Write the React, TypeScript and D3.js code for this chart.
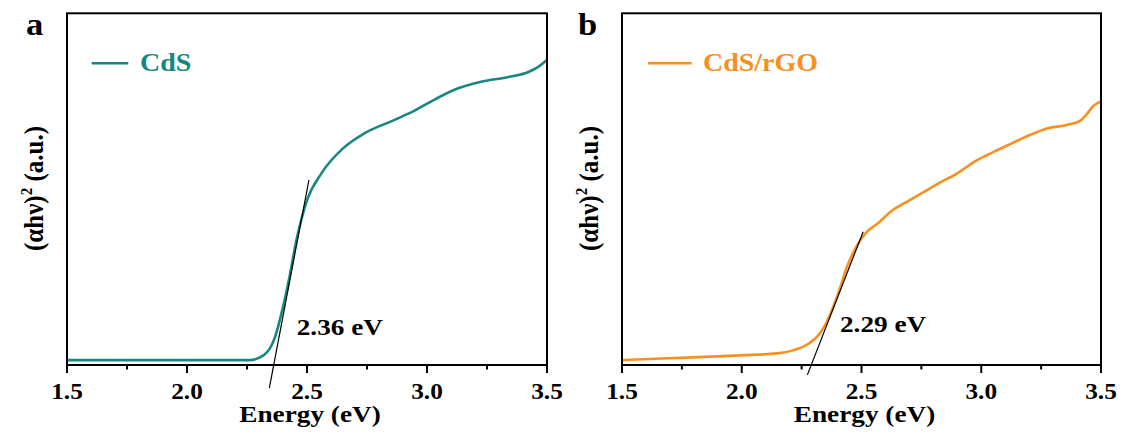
import React from "react";
import * as d3 from "d3";

const xTicks = [1.5, 2.0, 2.5, 3.0, 3.5];
const xMinorTicks = [1.75, 2.25, 2.75, 3.25];

const cdsEnergy = [1.5, 2.0, 2.26, 2.32, 2.367, 2.397, 2.427, 2.456, 2.479, 2.501, 2.56, 2.65, 2.74, 2.858, 2.948, 3.008, 3.112, 3.23, 3.335, 3.425, 3.455, 3.5];
const cdsValue = [1.4, 1.4, 1.4, 2.8, 8, 15.6, 25, 35.5, 42, 47, 54.5, 61.6, 65.9, 69.5, 72.3, 74.6, 78.2, 80.6, 81.8, 83.4, 84.4, 86.7];

const rgoEnergy = [1.5, 1.693, 1.995, 2.146, 2.221, 2.282, 2.327, 2.365, 2.403, 2.44, 2.478, 2.516, 2.569, 2.629, 2.689, 2.75, 2.825, 2.9, 2.976, 3.052, 3.127, 3.203, 3.278, 3.353, 3.414, 3.444, 3.467, 3.5];
const rgoValue = [1.4, 1.9, 2.75, 3.3, 4.3, 6.2, 9, 13.7, 20.4, 28, 33.6, 37.4, 40.3, 44, 46.4, 48.8, 51.8, 54.5, 58, 60.6, 63, 65.4, 67.3, 68.2, 69.5, 71.6, 73.6, 74.9];

const cdsTangentX = [2.343, 2.508];
const cdsTangentY = [-6.6, 52.6];
const rgoTangentX = [2.274, 2.507];
const rgoTangentY = [-2.8, 37.9];

const FONT = "'Liberation Serif', 'Times New Roman', Times, serif";

type PanelProps = {
  letter: string;
  left: number;
  right: number;
  energy: number[];
  value: number[];
  tx: number[];
  ty: number[];
  color: string;
  name: string;
  gapLabel: string;
  gapLabelPos: [number, number];
  letterX: number;
  yLabelX: number;
  legendX: [number, number, number];
};

function SText(props: {
  x: number;
  y: number;
  size: number;
  sx?: number;
  anchor?: string;
  fill?: string;
  children: React.ReactNode;
}) {
  const sx = props.sx ?? 1.14;
  return (
    <text
      transform={`translate(${props.x},${props.y}) scale(${sx},1)`}
      textAnchor={props.anchor ?? "start"}
      fill={props.fill ?? "#000"}
      style={{ fontFamily: FONT, fontWeight: "bold", fontSize: props.size }}
    >
      {props.children}
    </text>
  );
}

function Panel(p: PanelProps) {
  const top = 13.3;
  const bottom = 365;
  const x = d3.scaleLinear().domain([1.5, 3.5]).range([p.left, p.right]);
  const y = d3.scaleLinear().domain([0, 100]).range([bottom, top]);
  const pts: [number, number][] = p.energy.map((e, i) => [e, p.value[i]]);
  const line = d3
    .line<[number, number]>()
    .x((d) => x(d[0]))
    .y((d) => y(d[1]))
    .curve(d3.curveMonotoneX);
  const midY = 188.5;
  return (
    <g>
      <SText x={p.letterX} y={35} size={32} sx={1.08}>
        {p.letter}
      </SText>
      <path d={line(pts) || ""} fill="none" stroke={p.color} strokeWidth={2.6} />
      <line
        x1={x(p.tx[0])}
        y1={y(p.ty[0])}
        x2={x(p.tx[1])}
        y2={y(p.ty[1])}
        stroke="#000"
        strokeWidth={1.2}
      />
      <rect
        x={p.left}
        y={top}
        width={p.right - p.left}
        height={bottom - top}
        fill="none"
        stroke="#000"
        strokeWidth={2}
      />
      {xTicks.map((t) => (
        <g key={t}>
          <line x1={x(t)} x2={x(t)} y1={bottom} y2={bottom + 8} stroke="#000" strokeWidth={2} />
          <SText x={x(t)} y={399} size={23} sx={1.1} anchor="middle">
            {t.toFixed(1)}
          </SText>
        </g>
      ))}
      {xMinorTicks.map((t) => (
        <line key={t} x1={x(t)} x2={x(t)} y1={bottom} y2={bottom + 4.5} stroke="#000" strokeWidth={2} />
      ))}
      <SText x={(p.left + p.right) / 2 + 3} y={422} size={23.5} sx={1.16} anchor="middle">
        Energy (eV)
      </SText>
      <text
        transform={`translate(${p.yLabelX},${midY}) rotate(-90) scale(1,1.12)`}
        textAnchor="middle"
        style={{ fontFamily: FONT, fontWeight: "bold", fontSize: 25 }}
      >
        (αhν)
        <tspan style={{ fontSize: 15 }} dy={-10}>2</tspan>
        <tspan dy={10}> (a.u.)</tspan>
      </text>
      <line x1={p.legendX[0]} x2={p.legendX[1]} y1={63.3} y2={63.3} stroke={p.color} strokeWidth={2.6} />
      <SText x={p.legendX[2]} y={70.5} size={25} sx={1.12} fill={p.color}>
        {p.name}
      </SText>
      <SText x={p.gapLabelPos[0]} y={p.gapLabelPos[1]} size={23.5} sx={1.16}>
        {p.gapLabel}
      </SText>
    </g>
  );
}

export default function App() {
  return (
    <svg width={1127} height={437} style={{ position: "absolute", left: 0, top: 0, background: "#fff" }}>
      <rect width={1127} height={437} fill="#fff" />
      <Panel
        letter="a"
        left={67}
        right={547}
        energy={cdsEnergy}
        value={cdsValue}
        tx={cdsTangentX}
        ty={cdsTangentY}
        color="#17877f"
        name="CdS"
        gapLabel="2.36 eV"
        gapLabelPos={[296.7, 335]}
        letterX={26}
        yLabelX={43}
        legendX={[91.7, 128.3, 140]}
      />
      <Panel
        letter="b"
        left={622}
        right={1101}
        energy={rgoEnergy}
        value={rgoValue}
        tx={rgoTangentX}
        ty={rgoTangentY}
        color="#f7901e"
        name="CdS/rGO"
        gapLabel="2.29 eV"
        gapLabelPos={[840, 331.7]}
        letterX={578}
        yLabelX={598}
        legendX={[648, 691.7, 703]}
      />
    </svg>
  );
}
